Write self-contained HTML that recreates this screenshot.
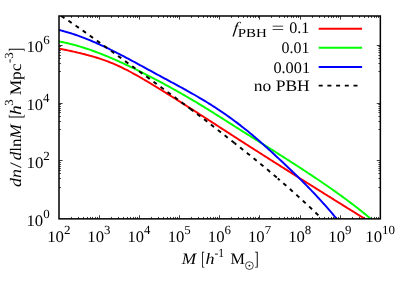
<!DOCTYPE html>
<html><head><meta charset="utf-8"><title>plot</title>
<style>
html,body{margin:0;padding:0;background:#fff;}
body{width:409px;height:286px;overflow:hidden;}
svg{display:block;will-change:transform;}
text{font-family:"Liberation Serif",serif;fill:#000;white-space:pre;text-rendering:geometricPrecision;}
</style></head><body>
<svg width="409" height="286" viewBox="0 0 409 286">
<rect width="409" height="286" fill="#fff"/>
<defs><clipPath id="c"><rect x="59.0" y="16.0" width="321.35" height="202.85"/></clipPath></defs>
<path d="M71.50,218.85L71.50,216.95 M71.50,16.00L71.50,17.90 M78.50,218.85L78.50,216.95 M78.50,16.00L78.50,17.90 M83.50,218.85L83.50,216.95 M83.50,16.00L83.50,17.90 M87.50,218.85L87.50,216.95 M87.50,16.00L87.50,17.90 M90.50,218.85L90.50,216.95 M90.50,16.00L90.50,17.90 M92.50,218.85L92.50,216.95 M92.50,16.00L92.50,17.90 M95.50,218.85L95.50,216.95 M95.50,16.00L95.50,17.90 M97.50,218.85L97.50,216.95 M97.50,16.00L97.50,17.90 M99.50,218.85L99.50,215.25 M99.50,16.00L99.50,19.60 M111.50,218.85L111.50,216.95 M111.50,16.00L111.50,17.90 M118.50,218.85L118.50,216.95 M118.50,16.00L118.50,17.90 M123.50,218.85L123.50,216.95 M123.50,16.00L123.50,17.90 M127.50,218.85L127.50,216.95 M127.50,16.00L127.50,17.90 M130.50,218.85L130.50,216.95 M130.50,16.00L130.50,17.90 M133.50,218.85L133.50,216.95 M133.50,16.00L133.50,17.90 M135.50,218.85L135.50,216.95 M135.50,16.00L135.50,17.90 M137.50,218.85L137.50,216.95 M137.50,16.00L137.50,17.90 M139.50,218.85L139.50,215.25 M139.50,16.00L139.50,19.60 M151.50,218.85L151.50,216.95 M151.50,16.00L151.50,17.90 M158.50,218.85L158.50,216.95 M158.50,16.00L158.50,17.90 M163.50,218.85L163.50,216.95 M163.50,16.00L163.50,17.90 M167.50,218.85L167.50,216.95 M167.50,16.00L167.50,17.90 M170.50,218.85L170.50,216.95 M170.50,16.00L170.50,17.90 M173.50,218.85L173.50,216.95 M173.50,16.00L173.50,17.90 M175.50,218.85L175.50,216.95 M175.50,16.00L175.50,17.90 M177.50,218.85L177.50,216.95 M177.50,16.00L177.50,17.90 M179.50,218.85L179.50,215.25 M179.50,16.00L179.50,19.60 M191.50,218.85L191.50,216.95 M191.50,16.00L191.50,17.90 M198.50,218.85L198.50,216.95 M198.50,16.00L198.50,17.90 M203.50,218.85L203.50,216.95 M203.50,16.00L203.50,17.90 M207.50,218.85L207.50,216.95 M207.50,16.00L207.50,17.90 M210.50,218.85L210.50,216.95 M210.50,16.00L210.50,17.90 M213.50,218.85L213.50,216.95 M213.50,16.00L213.50,17.90 M215.50,218.85L215.50,216.95 M215.50,16.00L215.50,17.90 M217.50,218.85L217.50,216.95 M217.50,16.00L217.50,17.90 M219.50,218.85L219.50,215.25 M219.50,16.00L219.50,19.60 M231.50,218.85L231.50,216.95 M231.50,16.00L231.50,17.90 M238.50,218.85L238.50,216.95 M238.50,16.00L238.50,17.90 M243.50,218.85L243.50,216.95 M243.50,16.00L243.50,17.90 M247.50,218.85L247.50,216.95 M247.50,16.00L247.50,17.90 M250.50,218.85L250.50,216.95 M250.50,16.00L250.50,17.90 M253.50,218.85L253.50,216.95 M253.50,16.00L253.50,17.90 M255.50,218.85L255.50,216.95 M255.50,16.00L255.50,17.90 M258.50,218.85L258.50,216.95 M258.50,16.00L258.50,17.90 M259.50,218.85L259.50,215.25 M259.50,16.00L259.50,19.60 M271.50,218.85L271.50,216.95 M271.50,16.00L271.50,17.90 M279.50,218.85L279.50,216.95 M279.50,16.00L279.50,17.90 M284.50,218.85L284.50,216.95 M284.50,16.00L284.50,17.90 M287.50,218.85L287.50,216.95 M287.50,16.00L287.50,17.90 M291.50,218.85L291.50,216.95 M291.50,16.00L291.50,17.90 M293.50,218.85L293.50,216.95 M293.50,16.00L293.50,17.90 M296.50,218.85L296.50,216.95 M296.50,16.00L296.50,17.90 M298.50,218.85L298.50,216.95 M298.50,16.00L298.50,17.90 M300.50,218.85L300.50,215.25 M300.50,16.00L300.50,19.60 M312.50,218.85L312.50,216.95 M312.50,16.00L312.50,17.90 M319.50,218.85L319.50,216.95 M319.50,16.00L319.50,17.90 M324.50,218.85L324.50,216.95 M324.50,16.00L324.50,17.90 M328.50,218.85L328.50,216.95 M328.50,16.00L328.50,17.90 M331.50,218.85L331.50,216.95 M331.50,16.00L331.50,17.90 M333.50,218.85L333.50,216.95 M333.50,16.00L333.50,17.90 M336.50,218.85L336.50,216.95 M336.50,16.00L336.50,17.90 M338.50,218.85L338.50,216.95 M338.50,16.00L338.50,17.90 M340.50,218.85L340.50,215.25 M340.50,16.00L340.50,19.60 M352.50,218.85L352.50,216.95 M352.50,16.00L352.50,17.90 M359.50,218.85L359.50,216.95 M359.50,16.00L359.50,17.90 M364.50,218.85L364.50,216.95 M364.50,16.00L364.50,17.90 M368.50,218.85L368.50,216.95 M368.50,16.00L368.50,17.90 M371.50,218.85L371.50,216.95 M371.50,16.00L371.50,17.90 M374.50,218.85L374.50,216.95 M374.50,16.00L374.50,17.90 M376.50,218.85L376.50,216.95 M376.50,16.00L376.50,17.90 M378.50,218.85L378.50,216.95 M378.50,16.00L378.50,17.90 M59.00,160.50L62.60,160.50 M380.35,160.50L376.75,160.50 M59.00,162.50L60.90,162.50 M380.35,162.50L378.45,162.50 M59.00,164.50L60.90,164.50 M380.35,164.50L378.45,164.50 M59.00,166.50L60.90,166.50 M380.35,166.50L378.45,166.50 M59.00,168.50L60.90,168.50 M380.35,168.50L378.45,168.50 M59.00,170.50L60.90,170.50 M380.35,170.50L378.45,170.50 M59.00,173.50L60.90,173.50 M380.35,173.50L378.45,173.50 M59.00,178.50L60.90,178.50 M380.35,178.50L378.45,178.50 M59.00,187.50L60.90,187.50 M380.35,187.50L378.45,187.50 M59.00,103.50L62.60,103.50 M380.35,103.50L376.75,103.50 M59.00,104.50L60.90,104.50 M380.35,104.50L378.45,104.50 M59.00,106.50L60.90,106.50 M380.35,106.50L378.45,106.50 M59.00,108.50L60.90,108.50 M380.35,108.50L378.45,108.50 M59.00,110.50L60.90,110.50 M380.35,110.50L378.45,110.50 M59.00,112.50L60.90,112.50 M380.35,112.50L378.45,112.50 M59.00,116.50L60.90,116.50 M380.35,116.50L378.45,116.50 M59.00,121.50L60.90,121.50 M380.35,121.50L378.45,121.50 M59.00,129.50L60.90,129.50 M380.35,129.50L378.45,129.50 M59.00,45.50L62.60,45.50 M380.35,45.50L376.75,45.50 M59.00,46.50L60.90,46.50 M380.35,46.50L378.45,46.50 M59.00,48.50L60.90,48.50 M380.35,48.50L378.45,48.50 M59.00,50.50L60.90,50.50 M380.35,50.50L378.45,50.50 M59.00,52.50L60.90,52.50 M380.35,52.50L378.45,52.50 M59.00,55.50L60.90,55.50 M380.35,55.50L378.45,55.50 M59.00,58.50L60.90,58.50 M380.35,58.50L378.45,58.50 M59.00,63.50L60.90,63.50 M380.35,63.50L378.45,63.50 M59.00,71.50L60.90,71.50 M380.35,71.50L378.45,71.50" stroke="#000" stroke-width="0.75" fill="none"/>
<g clip-path="url(#c)" fill="none" stroke-width="1.95" stroke-linejoin="round">
<path d="M59.00,48.54 L60.43,48.84 L61.86,49.14 L63.29,49.44 L64.73,49.75 L66.16,50.05 L67.59,50.36 L69.02,50.66 L70.45,50.97 L71.88,51.29 L73.32,51.60 L74.75,51.92 L76.18,52.25 L77.61,52.58 L79.04,52.92 L80.47,53.26 L81.90,53.60 L83.34,53.96 L84.77,54.32 L86.20,54.69 L87.63,55.07 L89.06,55.45 L90.49,55.85 L91.92,56.25 L93.36,56.67 L94.79,57.09 L96.22,57.53 L97.65,57.97 L99.08,58.43 L100.51,58.90 L101.95,59.38 L103.38,59.87 L104.81,60.38 L106.24,60.90 L107.67,61.44 L109.10,61.99 L110.53,62.55 L111.97,63.13 L113.40,63.72 L114.83,64.33 L116.26,64.96 L117.69,65.60 L119.12,66.26 L120.55,66.93 L121.99,67.62 L123.42,68.32 L124.85,69.03 L126.28,69.75 L127.71,70.49 L129.14,71.24 L130.58,71.99 L132.01,72.76 L133.44,73.54 L134.87,74.33 L136.30,75.13 L137.73,75.94 L139.16,76.75 L140.60,77.57 L142.03,78.40 L143.46,79.24 L144.89,80.08 L146.32,80.93 L147.75,81.78 L149.18,82.64 L150.62,83.50 L152.05,84.37 L153.48,85.23 L154.91,86.11 L156.34,86.98 L157.77,87.86 L159.21,88.73 L160.64,89.62 L162.07,90.50 L163.50,91.38 L164.93,92.27 L166.36,93.16 L167.79,94.05 L169.23,94.94 L170.66,95.84 L172.09,96.73 L173.52,97.63 L174.95,98.53 L176.38,99.43 L177.82,100.34 L179.25,101.24 L180.68,102.15 L182.11,103.05 L183.54,103.96 L184.97,104.87 L186.40,105.78 L187.84,106.70 L189.27,107.61 L190.70,108.52 L192.13,109.44 L193.56,110.36 L194.99,111.28 L196.42,112.19 L197.86,113.11 L199.29,114.03 L200.72,114.95 L202.15,115.88 L203.58,116.80 L205.01,117.72 L206.45,118.64 L207.88,119.57 L209.31,120.49 L210.74,121.42 L212.17,122.34 L213.60,123.27 L215.03,124.19 L216.47,125.12 L217.90,126.04 L219.33,126.97 L220.76,127.89 L222.19,128.82 L223.62,129.74 L225.05,130.67 L226.49,131.59 L227.92,132.52 L229.35,133.44 L230.78,134.36 L232.21,135.29 L233.64,136.21 L235.08,137.13 L236.51,138.05 L237.94,138.97 L239.37,139.89 L240.80,140.81 L242.23,141.73 L243.66,142.65 L245.10,143.57 L246.53,144.49 L247.96,145.40 L249.39,146.32 L250.82,147.23 L252.25,148.15 L253.68,149.06 L255.12,149.98 L256.55,150.89 L257.98,151.80 L259.41,152.72 L260.84,153.63 L262.27,154.54 L263.71,155.45 L265.14,156.36 L266.57,157.27 L268.00,158.18 L269.43,159.09 L270.86,159.99 L272.29,160.90 L273.73,161.81 L275.16,162.72 L276.59,163.62 L278.02,164.53 L279.45,165.43 L280.88,166.34 L282.32,167.24 L283.75,168.15 L285.18,169.05 L286.61,169.95 L288.04,170.86 L289.47,171.76 L290.90,172.66 L292.34,173.56 L293.77,174.46 L295.20,175.37 L296.63,176.27 L298.06,177.17 L299.49,178.07 L300.92,178.96 L302.36,179.86 L303.79,180.76 L305.22,181.66 L306.65,182.56 L308.08,183.46 L309.51,184.35 L310.95,185.25 L312.38,186.15 L313.81,187.04 L315.24,187.94 L316.67,188.84 L318.10,189.73 L319.53,190.63 L320.97,191.52 L322.40,192.42 L323.83,193.31 L325.26,194.21 L326.69,195.10 L328.12,195.99 L329.55,196.89 L330.99,197.78 L332.42,198.67 L333.85,199.57 L335.28,200.46 L336.71,201.35 L338.14,202.24 L339.58,203.13 L341.01,204.03 L342.44,204.92 L343.87,205.81 L345.30,206.70 L346.73,207.59 L348.16,208.48 L349.60,209.37 L351.03,210.26 L352.46,211.15 L353.89,212.04 L355.32,212.93 L356.75,213.82 L358.18,214.71 L359.62,215.60 L361.05,216.49 L362.48,217.38 L363.91,218.27 L365.34,219.16 L366.77,220.05 L368.21,220.94 L369.64,221.83 L371.07,222.72 L372.50,223.61" stroke="#ff0000"/>
<path d="M59.00,41.45 L60.46,41.72 L61.92,42.01 L63.38,42.31 L64.84,42.62 L66.30,42.95 L67.76,43.28 L69.22,43.63 L70.68,43.99 L72.14,44.37 L73.60,44.75 L75.06,45.15 L76.52,45.55 L77.98,45.97 L79.44,46.40 L80.90,46.84 L82.36,47.29 L83.82,47.75 L85.28,48.22 L86.75,48.70 L88.21,49.19 L89.67,49.69 L91.13,50.20 L92.59,50.71 L94.05,51.24 L95.51,51.78 L96.97,52.32 L98.43,52.87 L99.89,53.43 L101.35,54.00 L102.81,54.58 L104.27,55.17 L105.73,55.76 L107.19,56.36 L108.65,56.96 L110.11,57.58 L111.57,58.20 L113.03,58.83 L114.49,59.46 L115.95,60.10 L117.41,60.75 L118.87,61.40 L120.33,62.06 L121.79,62.72 L123.25,63.39 L124.71,64.07 L126.17,64.75 L127.63,65.43 L129.09,66.12 L130.55,66.82 L132.01,67.52 L133.47,68.22 L134.93,68.93 L136.39,69.65 L137.85,70.37 L139.32,71.09 L140.78,71.82 L142.24,72.55 L143.70,73.29 L145.16,74.03 L146.62,74.77 L148.08,75.52 L149.54,76.28 L151.00,77.03 L152.46,77.79 L153.92,78.56 L155.38,79.33 L156.84,80.10 L158.30,80.87 L159.76,81.65 L161.22,82.44 L162.68,83.22 L164.14,84.01 L165.60,84.81 L167.06,85.60 L168.52,86.40 L169.98,87.21 L171.44,88.01 L172.90,88.82 L174.36,89.64 L175.82,90.45 L177.28,91.27 L178.74,92.10 L180.20,92.93 L181.66,93.76 L183.12,94.59 L184.58,95.43 L186.04,96.27 L187.50,97.12 L188.96,97.97 L190.42,98.82 L191.88,99.68 L193.35,100.55 L194.81,101.41 L196.27,102.28 L197.73,103.16 L199.19,104.04 L200.65,104.92 L202.11,105.81 L203.57,106.70 L205.03,107.60 L206.49,108.50 L207.95,109.40 L209.41,110.31 L210.87,111.22 L212.33,112.13 L213.79,113.05 L215.25,113.97 L216.71,114.89 L218.17,115.81 L219.63,116.74 L221.09,117.66 L222.55,118.59 L224.01,119.52 L225.47,120.45 L226.93,121.38 L228.39,122.31 L229.85,123.24 L231.31,124.17 L232.77,125.10 L234.23,126.03 L235.69,126.95 L237.15,127.88 L238.61,128.80 L240.07,129.73 L241.53,130.65 L242.99,131.57 L244.45,132.49 L245.92,133.41 L247.38,134.33 L248.84,135.25 L250.30,136.17 L251.76,137.09 L253.22,138.00 L254.68,138.92 L256.14,139.84 L257.60,140.76 L259.06,141.67 L260.52,142.59 L261.98,143.51 L263.44,144.43 L264.90,145.35 L266.36,146.26 L267.82,147.18 L269.28,148.10 L270.74,149.02 L272.20,149.94 L273.66,150.87 L275.12,151.79 L276.58,152.71 L278.04,153.64 L279.50,154.56 L280.96,155.49 L282.42,156.42 L283.88,157.35 L285.34,158.28 L286.80,159.21 L288.26,160.14 L289.72,161.08 L291.18,162.02 L292.64,162.96 L294.10,163.90 L295.56,164.84 L297.02,165.79 L298.48,166.74 L299.95,167.69 L301.41,168.64 L302.87,169.59 L304.33,170.55 L305.79,171.51 L307.25,172.47 L308.71,173.44 L310.17,174.40 L311.63,175.38 L313.09,176.35 L314.55,177.33 L316.01,178.31 L317.47,179.29 L318.93,180.28 L320.39,181.27 L321.85,182.26 L323.31,183.26 L324.77,184.26 L326.23,185.26 L327.69,186.27 L329.15,187.28 L330.61,188.30 L332.07,189.32 L333.53,190.35 L334.99,191.38 L336.45,192.41 L337.91,193.46 L339.37,194.50 L340.83,195.56 L342.29,196.62 L343.75,197.68 L345.21,198.76 L346.67,199.83 L348.13,200.92 L349.59,202.01 L351.05,203.11 L352.52,204.22 L353.98,205.34 L355.44,206.46 L356.90,207.59 L358.36,208.73 L359.82,209.88 L361.28,211.03 L362.74,212.20 L364.20,213.37 L365.66,214.55 L367.12,215.74 L368.58,216.95 L370.04,218.16 L371.50,219.38 L372.96,220.61 L374.42,221.85 L375.88,223.11 L377.34,224.37 L378.80,225.64" stroke="#00ff00"/>
<path d="M59.00,30.00 L60.31,30.32 L61.61,30.65 L62.92,30.99 L64.22,31.34 L65.53,31.70 L66.83,32.07 L68.14,32.46 L69.44,32.85 L70.75,33.26 L72.05,33.67 L73.36,34.09 L74.66,34.53 L75.97,34.97 L77.27,35.43 L78.58,35.89 L79.88,36.36 L81.19,36.85 L82.49,37.34 L83.80,37.83 L85.10,38.34 L86.41,38.86 L87.71,39.38 L89.02,39.91 L90.32,40.45 L91.63,41.00 L92.93,41.55 L94.24,42.12 L95.54,42.68 L96.85,43.26 L98.15,43.84 L99.46,44.43 L100.76,45.03 L102.07,45.63 L103.37,46.24 L104.68,46.85 L105.98,47.47 L107.29,48.10 L108.59,48.73 L109.90,49.36 L111.20,50.00 L112.51,50.65 L113.81,51.30 L115.12,51.96 L116.42,52.62 L117.73,53.28 L119.03,53.95 L120.34,54.62 L121.64,55.29 L122.95,55.97 L124.25,56.65 L125.56,57.34 L126.86,58.03 L128.17,58.72 L129.47,59.41 L130.78,60.11 L132.08,60.81 L133.39,61.51 L134.69,62.21 L136.00,62.91 L137.30,63.62 L138.61,64.33 L139.91,65.04 L141.22,65.75 L142.52,66.46 L143.83,67.17 L145.13,67.88 L146.44,68.59 L147.74,69.31 L149.05,70.02 L150.35,70.73 L151.66,71.44 L152.96,72.16 L154.27,72.87 L155.57,73.58 L156.88,74.29 L158.18,75.00 L159.49,75.70 L160.79,76.41 L162.10,77.11 L163.40,77.82 L164.71,78.52 L166.01,79.23 L167.32,79.93 L168.62,80.63 L169.93,81.33 L171.23,82.04 L172.54,82.74 L173.84,83.45 L175.15,84.15 L176.45,84.86 L177.76,85.57 L179.06,86.28 L180.37,86.99 L181.67,87.70 L182.98,88.42 L184.28,89.14 L185.59,89.86 L186.89,90.59 L188.20,91.32 L189.50,92.05 L190.81,92.79 L192.11,93.53 L193.42,94.27 L194.72,95.02 L196.03,95.77 L197.33,96.53 L198.64,97.29 L199.94,98.06 L201.25,98.83 L202.55,99.61 L203.86,100.40 L205.16,101.19 L206.47,101.99 L207.77,102.79 L209.08,103.60 L210.38,104.42 L211.69,105.24 L212.99,106.08 L214.30,106.92 L215.60,107.76 L216.91,108.62 L218.21,109.48 L219.52,110.35 L220.82,111.23 L222.13,112.11 L223.43,113.01 L224.74,113.91 L226.04,114.82 L227.35,115.74 L228.65,116.66 L229.96,117.60 L231.26,118.54 L232.57,119.49 L233.87,120.45 L235.18,121.42 L236.48,122.40 L237.79,123.39 L239.09,124.38 L240.40,125.39 L241.70,126.40 L243.01,127.42 L244.31,128.46 L245.62,129.50 L246.92,130.55 L248.23,131.61 L249.53,132.68 L250.84,133.76 L252.14,134.85 L253.45,135.95 L254.75,137.05 L256.06,138.17 L257.36,139.29 L258.67,140.42 L259.97,141.56 L261.28,142.70 L262.58,143.86 L263.89,145.01 L265.19,146.18 L266.50,147.35 L267.80,148.53 L269.11,149.71 L270.41,150.90 L271.72,152.09 L273.02,153.29 L274.33,154.49 L275.63,155.70 L276.94,156.91 L278.24,158.13 L279.55,159.35 L280.85,160.57 L282.16,161.80 L283.46,163.03 L284.77,164.26 L286.07,165.49 L287.38,166.73 L288.68,167.97 L289.99,169.22 L291.29,170.47 L292.60,171.72 L293.90,172.98 L295.21,174.25 L296.51,175.52 L297.82,176.80 L299.12,178.08 L300.43,179.37 L301.73,180.66 L303.04,181.96 L304.34,183.27 L305.65,184.59 L306.95,185.92 L308.26,187.25 L309.56,188.59 L310.87,189.94 L312.17,191.30 L313.48,192.67 L314.78,194.04 L316.09,195.43 L317.39,196.83 L318.70,198.24 L320.00,199.66 L321.31,201.09 L322.61,202.53 L323.92,203.98 L325.22,205.44 L326.53,206.92 L327.83,208.41 L329.14,209.91 L330.44,211.43 L331.75,212.96 L333.05,214.50 L334.36,216.05 L335.66,217.62 L336.97,219.21 L338.27,220.81 L339.58,222.42 L340.88,224.05 L342.19,225.70 L343.49,227.36 L344.80,229.04" stroke="#0000ff"/>
<path d="M56.30,12.70 L56.30,12.70 L62.30,16.66 L63.52,17.46 L64.74,18.27 L65.96,19.09 L67.18,19.90 L68.40,20.72 L69.62,21.54 L70.84,22.37 L72.06,23.20 L73.28,24.03 L74.51,24.87 L75.73,25.71 L76.95,26.55 L78.17,27.39 L79.39,28.24 L80.61,29.09 L81.83,29.94 L83.05,30.79 L84.27,31.65 L85.49,32.51 L86.71,33.37 L87.93,34.23 L89.15,35.10 L90.37,35.97 L91.59,36.84 L92.81,37.71 L94.03,38.58 L95.25,39.46 L96.48,40.33 L97.70,41.21 L98.92,42.09 L100.14,42.97 L101.36,43.85 L102.58,44.74 L103.80,45.62 L105.02,46.51 L106.24,47.39 L107.46,48.28 L108.68,49.16 L109.90,50.05 L111.12,50.94 L112.34,51.83 L113.56,52.72 L114.78,53.60 L116.00,54.49 L117.22,55.38 L118.45,56.27 L119.67,57.15 L120.89,58.04 L122.11,58.93 L123.33,59.82 L124.55,60.70 L125.77,61.59 L126.99,62.47 L128.21,63.36 L129.43,64.24 L130.65,65.13 L131.87,66.01 L133.09,66.90 L134.31,67.78 L135.53,68.67 L136.75,69.55 L137.97,70.44 L139.19,71.32 L140.42,72.21 L141.64,73.09 L142.86,73.98 L144.08,74.86 L145.30,75.75 L146.52,76.63 L146.90,76.91" stroke="#000" stroke-dasharray="4.0 4.7" stroke-dashoffset="2.92"/>
<path d="M146.90,76.91 L147.74,77.52 L148.96,78.40 L150.18,79.29 L151.40,80.18 L152.62,81.07 L153.84,81.95 L155.06,82.84 L156.28,83.73 L157.50,84.62 L158.72,85.51 L159.94,86.40 L161.16,87.29 L162.38,88.19 L163.61,89.08 L164.83,89.97 L166.05,90.87 L167.27,91.76 L168.49,92.66 L169.71,93.55 L170.93,94.45 L172.15,95.35 L173.37,96.25 L174.59,97.15 L175.81,98.05 L177.03,98.95 L178.25,99.86 L179.47,100.76 L180.69,101.67 L181.91,102.57 L183.13,103.48 L184.35,104.39 L185.58,105.30 L186.80,106.21 L188.02,107.13 L189.24,108.04 L190.46,108.96 L190.50,108.99" stroke="#000" stroke-dasharray="4.0 4.7" stroke-dashoffset="0.50"/>
<path d="M190.50,108.99 L191.68,109.87 L192.90,110.79 L194.12,111.71 L195.34,112.64 L196.56,113.56 L197.78,114.49 L199.00,115.41 L200.22,116.34 L201.44,117.27 L202.66,118.21 L203.88,119.14 L205.10,120.08 L206.32,121.02 L207.55,121.96 L208.77,122.90 L209.99,123.85 L211.21,124.79 L212.43,125.74 L213.65,126.69 L214.87,127.64 L216.09,128.59 L217.31,129.55 L218.53,130.50 L219.75,131.46 L220.97,132.41 L222.19,133.37 L223.41,134.33 L224.63,135.29 L225.85,136.25 L227.07,137.21 L228.29,138.17 L229.52,139.13 L230.74,140.09 L231.96,141.05 L233.18,142.01 L234.40,142.98 L234.60,143.14" stroke="#000" stroke-dasharray="4.0 4.7" stroke-dashoffset="0.41"/>
<path d="M234.60,143.14 L235.62,143.94 L236.84,144.90 L238.06,145.87 L239.28,146.83 L240.50,147.80 L241.72,148.77 L242.94,149.74 L244.16,150.71 L245.38,151.68 L246.60,152.66 L247.82,153.64 L249.04,154.61 L250.26,155.59 L251.48,156.58 L252.71,157.56 L253.93,158.55 L255.15,159.54 L256.37,160.53 L257.59,161.52 L258.81,162.52 L260.03,163.52 L261.25,164.52 L262.47,165.53 L263.69,166.54 L264.91,167.55 L266.13,168.57 L267.35,169.59 L268.57,170.61 L269.79,171.63 L271.01,172.66 L272.23,173.69 L273.45,174.73 L274.68,175.76 L275.90,176.81 L277.12,177.85 L277.80,178.44" stroke="#000" stroke-dasharray="4.0 4.7" stroke-dashoffset="1.79"/>
<path d="M277.80,178.44 L278.34,178.90 L279.56,179.95 L280.78,181.01 L282.00,182.06 L283.22,183.13 L284.44,184.19 L285.66,185.26 L286.88,186.33 L288.10,187.41 L289.32,188.49 L290.54,189.57 L291.76,190.66 L292.98,191.75 L294.20,192.84 L295.42,193.94 L296.65,195.04 L297.87,196.15 L299.09,197.25 L300.31,198.37 L301.53,199.48 L302.75,200.60 L303.97,201.73 L305.19,202.85 L306.41,203.99 L307.63,205.12 L308.85,206.26 L310.07,207.40 L311.29,208.55 L312.51,209.70 L313.73,210.86 L314.95,212.02 L316.17,213.18 L317.39,214.35 L318.62,215.52 L319.84,216.70 L321.06,217.88 L322.28,219.06 L323.50,220.25 L324.72,221.44 L325.94,222.64 L327.16,223.84 L328.38,225.05 L329.60,226.26 L329.60,226.26" stroke="#000" stroke-dasharray="4.0 4.7" stroke-dashoffset="1.41"/>
</g>
<rect x="59.0" y="16.0" width="321.35" height="202.85" fill="none" stroke="#000" stroke-width="1.5"/>
<g fill="none" stroke-width="1.95">
<path d="M318.7,28.8H362.1" stroke="#ff0000"/>
<path d="M318.7,47.8H362.1" stroke="#00ff00"/>
<path d="M318.7,66.9H362.1" stroke="#0000ff"/>
<path d="M318.7,85.6H358" stroke="#000" stroke-dasharray="4.0 4.7"/>
</g>
<text transform="translate(47.17,241.70) scale(1.0550,1)" xml:space="preserve"><tspan font-size="16.0">10</tspan><tspan font-size="12.4" dy="-7.6">2</tspan></text>
<text transform="translate(87.36,241.70) scale(1.0420,1)" xml:space="preserve"><tspan font-size="16.0">10</tspan><tspan font-size="12.4" dy="-7.6">3</tspan></text>
<text transform="translate(127.54,241.70) scale(1.0293,1)" xml:space="preserve"><tspan font-size="16.0">10</tspan><tspan font-size="12.4" dy="-7.6">4</tspan></text>
<text transform="translate(167.69,241.70) scale(1.0420,1)" xml:space="preserve"><tspan font-size="16.0">10</tspan><tspan font-size="12.4" dy="-7.6">5</tspan></text>
<text transform="translate(207.86,241.70) scale(1.0420,1)" xml:space="preserve"><tspan font-size="16.0">10</tspan><tspan font-size="12.4" dy="-7.6">6</tspan></text>
<text transform="translate(248.03,241.70) scale(1.0420,1)" xml:space="preserve"><tspan font-size="16.0">10</tspan><tspan font-size="12.4" dy="-7.6">7</tspan></text>
<text transform="translate(288.20,241.70) scale(1.0420,1)" xml:space="preserve"><tspan font-size="16.0">10</tspan><tspan font-size="12.4" dy="-7.6">8</tspan></text>
<text transform="translate(328.37,241.70) scale(1.0420,1)" xml:space="preserve"><tspan font-size="16.0">10</tspan><tspan font-size="12.4" dy="-7.6">9</tspan></text>
<text transform="translate(365.33,241.70) scale(1.0491,1)" xml:space="preserve"><tspan font-size="16.0">10</tspan><tspan font-size="12.4" dy="-7.6">10</tspan></text>
<text transform="translate(26.43,225.55) scale(1.0469,1)" xml:space="preserve"><tspan font-size="16.0">10</tspan><tspan font-size="12.4" dy="-7.6">0</tspan></text>
<text transform="translate(26.41,167.69) scale(1.0600,1)" xml:space="preserve"><tspan font-size="16.0">10</tspan><tspan font-size="12.4" dy="-7.6">2</tspan></text>
<text transform="translate(26.45,109.83) scale(1.0341,1)" xml:space="preserve"><tspan font-size="16.0">10</tspan><tspan font-size="12.4" dy="-7.6">4</tspan></text>
<text transform="translate(26.43,51.97) scale(1.0469,1)" xml:space="preserve"><tspan font-size="16.0">10</tspan><tspan font-size="12.4" dy="-7.6">6</tspan></text>
<text transform="translate(232.86,33.20) scale(1.0500,1) skewX(-8)" xml:space="preserve"><tspan font-style="italic" font-size="16.0">f</tspan></text>
<text transform="translate(237.70,37.20) scale(1.2086,1)" xml:space="preserve"><tspan font-size="12.4">PBH</tspan></text>
<text transform="translate(271.54,33.20) scale(1.4133,1)" xml:space="preserve"><tspan font-size="16.0">=</tspan></text>
<text transform="translate(289.30,33.10) scale(1.0054,1)" xml:space="preserve"><tspan font-size="16.0">0.1</tspan></text>
<text transform="translate(281.50,53.30) scale(0.9962,1)" xml:space="preserve"><tspan font-size="16.0">0.01</tspan></text>
<text transform="translate(273.39,72.60) scale(1.0174,1)" xml:space="preserve"><tspan font-size="16.0">0.001</tspan></text>
<text transform="translate(253.83,91.40) scale(1.0931,1)" xml:space="preserve"><tspan font-size="16.0">no PBH</tspan></text>
<text transform="translate(181.67,264.30) scale(1.0807,1)" xml:space="preserve"><tspan font-style="italic" font-size="16.0">M</tspan></text>
<text transform="translate(201.35,264.90) scale(0.5647,1)" xml:space="preserve"><tspan font-size="19.0">[</tspan></text>
<text transform="translate(205.54,264.30) scale(1.1259,1)" xml:space="preserve"><tspan font-style="italic" font-size="16.0">h</tspan></text>
<text transform="translate(214.43,257.00) scale(0.9333,1)" xml:space="preserve"><tspan font-size="12.4">-1</tspan></text>
<text transform="translate(230.59,264.30) scale(1.0113,1)" xml:space="preserve"><tspan font-size="16.0">M</tspan></text>
<text transform="translate(254.51,264.90) scale(0.6588,1)" xml:space="preserve"><tspan font-size="19.0">]</tspan></text>
<text transform="translate(21.30,187.06) rotate(-90) scale(1.1186,1)" xml:space="preserve"><tspan font-style="italic" font-size="16.0">dn</tspan></text>
<text transform="translate(21.30,167.90) rotate(-90) scale(1.3111,1)" xml:space="preserve"><tspan font-size="16.0">/</tspan></text>
<text transform="translate(21.30,160.34) rotate(-90) scale(1.0706,1)" xml:space="preserve"><tspan font-style="italic" font-size="16.0">d</tspan><tspan font-size="16.0">ln</tspan><tspan font-style="italic" font-size="16.0">M</tspan></text>
<text transform="translate(21.90,118.22) rotate(-90) scale(0.6118,1)" xml:space="preserve"><tspan font-size="19.0">[</tspan></text>
<text transform="translate(21.30,115.01) rotate(-90) scale(1.2148,1)" xml:space="preserve"><tspan font-style="italic" font-size="16.0">h</tspan></text>
<text transform="translate(12.70,105.81) rotate(-90) scale(1.0286,1)" xml:space="preserve"><tspan font-size="12.4">3</tspan></text>
<text transform="translate(21.30,95.34) rotate(-90) scale(1.0832,1)" xml:space="preserve"><tspan font-size="16.0">Mpc</tspan></text>
<text transform="translate(12.70,63.02) rotate(-90) scale(1.0486,1)" xml:space="preserve"><tspan font-size="12.4">-3</tspan></text>
<text transform="translate(21.90,51.76) rotate(-90) scale(0.6118,1)" xml:space="preserve"><tspan font-size="19.0">]</tspan></text>
<circle cx="249.4" cy="265.6" r="3.9" fill="none" stroke="#000" stroke-width="0.7"/>
<circle cx="249.4" cy="265.6" r="0.9" fill="#000"/>
</svg>
</body></html>
